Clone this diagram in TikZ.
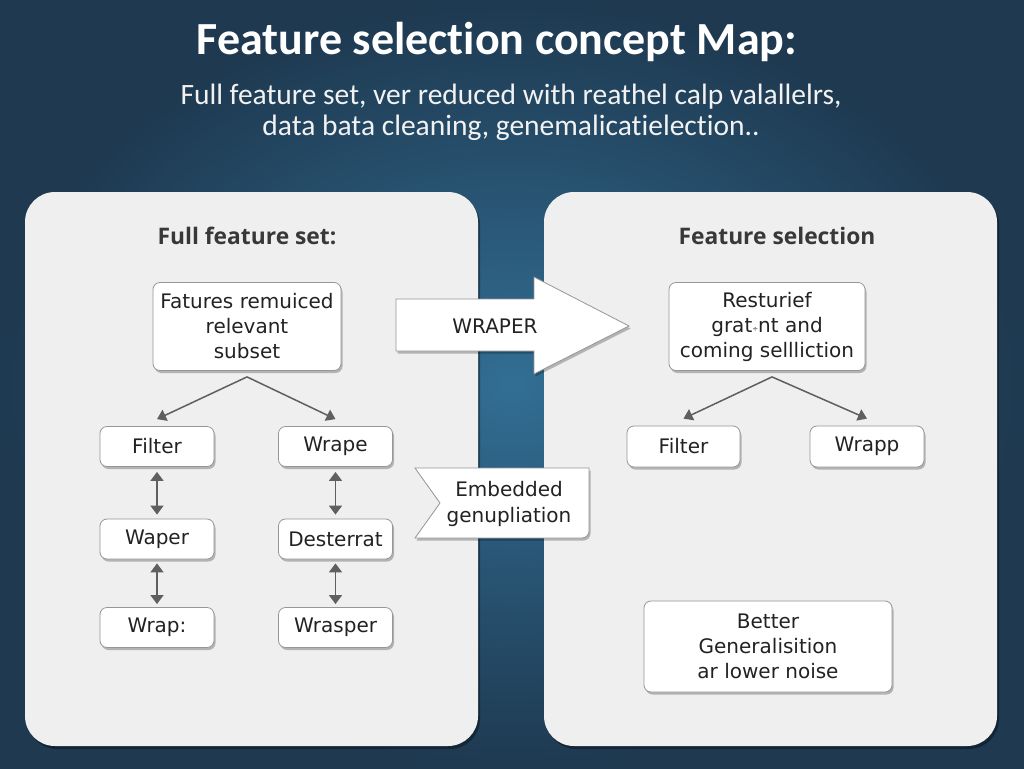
\documentclass[tikz,border=0pt]{standalone}
\usepackage{fontspec}
\setmainfont{DejaVu Sans}
\newfontfamily\titlefont[Ligatures=NoCommon]{Carlito}
\newfontfamily\headfont{Open Sans}
\usetikzlibrary{arrows.meta,shadows}
\definecolor{bglight}{RGB}{50,110,148}
\definecolor{bgdark}{RGB}{30,57,80}
\definecolor{panelfill}{RGB}{239,239,239}
\definecolor{boxline}{RGB}{150,150,150}
\definecolor{txt}{RGB}{34,34,34}
\definecolor{arr}{RGB}{95,95,95}
\begin{document}
\begin{tikzpicture}[x=1pt,y=-1pt,
  shadowed/.style={drop shadow={shadow xshift=1.5pt,shadow yshift=-2.5pt,opacity=0.25,fill=black}},
  panel/.style={fill=panelfill,rounded corners=30pt,drop shadow={shadow xshift=2pt,shadow yshift=-3pt,opacity=0.35,fill=black}},
  box/.style={draw=boxline,fill=white,rounded corners=7pt,line width=0.8pt,text=txt,
    font=\fontsize{20}{25}\selectfont,align=center,inner sep=0pt,shadowed},
  small/.style={box,minimum width=114pt,minimum height=40pt},
  heading/.style={font=\headfont\bfseries\fontsize{22.8}{26}\selectfont,text=txt!90},
  tree/.style={draw=arr,line width=1.5pt,-{Triangle[width=12pt,length=9pt]}},
  dbl/.style={draw=arr,line width=1.5pt,{Triangle[width=13pt,length=9pt]}-{Triangle[width=13pt,length=9pt]}}
]
\useasboundingbox (0,0) rectangle (1024,768);
\shade[inner color=bglight,outer color=bgdark] (0,0) rectangle (1024,768);

% title
\node[font=\titlefont\bfseries\fontsize{46}{50}\selectfont,text=white] (title) at (497,42) {Feature selection concept Map:};
\node[font=\titlefont\fontsize{29.5}{31}\selectfont,text=white!95!black,align=center] (sub) at (511,112)
  {Full feature set, ver reduced with reathel calp valallelrs,\\data bata cleaning, genemalicatielection..};

% panels
\path[panel] (25,192) rectangle (478,746);
\path[panel] (544,192) rectangle (997,746);

% left panel
\node[heading] (lh) at (247,236) {Full feature set:};
\node[box,minimum width=188pt,minimum height=88pt] (ltop) at (247,326.5) {Fatures remuiced\\relevant\\subset};
\node[small] (lf) at (157,446.5) {Filter};
\node[small] (lw) at (335.5,446.5) {Wrape};
\node[small] (lwa) at (157,539) {Waper};
\node[small] (ld) at (335.5,539) {Desterrat};
\node[small] (lwr) at (157,627.5) {Wrap:};
\node[small] (lws) at (335.5,627.5) {Wrasper};
\coordinate (lapex) at ([yshift=-6pt]ltop.south);
\draw[tree] (lapex) -- ([yshift=7pt]lf.north);
\draw[tree] (lapex) -- ([yshift=7pt]lw.north);
\draw[dbl] ([yshift=-5pt]lf.south) -- ([yshift=4pt]lwa.north);
\draw[dbl] ([yshift=-5pt]lw.south) -- ([yshift=4pt]ld.north);
\draw[dbl] ([yshift=-4pt]lwa.south) -- ([yshift=3pt]lwr.north);
\draw[dbl] ([yshift=-4pt]ld.south) -- ([yshift=3pt]lws.north);

% middle arrow
\path[fill=white,draw=boxline,line width=0.8pt,shadowed]
  (396,299) -- (534,299) -- (534,277) -- (629,326) -- (534,374) -- (534,351) -- (396,351) -- cycle;
\node[font=\fontsize{20}{25}\selectfont,text=txt] (wraper) at (495,326) {WRAPER};

% embedded tag
\path[fill=white,draw=boxline,line width=0.8pt,shadowed]
  (440,503) -- (415,468) -- (589,468) [rounded corners=7pt] -- (589,538) [sharp corners] -- (415,538) -- cycle;
\node[font=\fontsize{20}{26}\selectfont,text=txt,align=center] (emb) at (509,504) {Embedded\\genupliation};

% right panel
\node[heading] (rh) at (777,236) {Feature selection};
\node[box,minimum width=196pt,minimum height=88pt] (rtop) at (767,326.5) {Resturief\\grat\raisebox{0.5pt}{\scriptsize ÷}nt and\\coming sellliction};
\node[small,minimum width=113pt,minimum height=41pt] (rf) at (683.5,446.5) {Filter};
\node[small,minimum height=41pt] (rw) at (867,446.5) {Wrapp};
\node[box,minimum width=248pt,minimum height=91pt] (rb) at (768,646.5) {Better\\Generalisition\\ar lower noise};
\coordinate (rapex) at ([xshift=5pt,yshift=-6pt]rtop.south);
\draw[tree] (rapex) -- ([yshift=7pt]rf.north);
\draw[tree] (rapex) -- ([yshift=7pt]rw.north);
\end{tikzpicture}
\end{document}
